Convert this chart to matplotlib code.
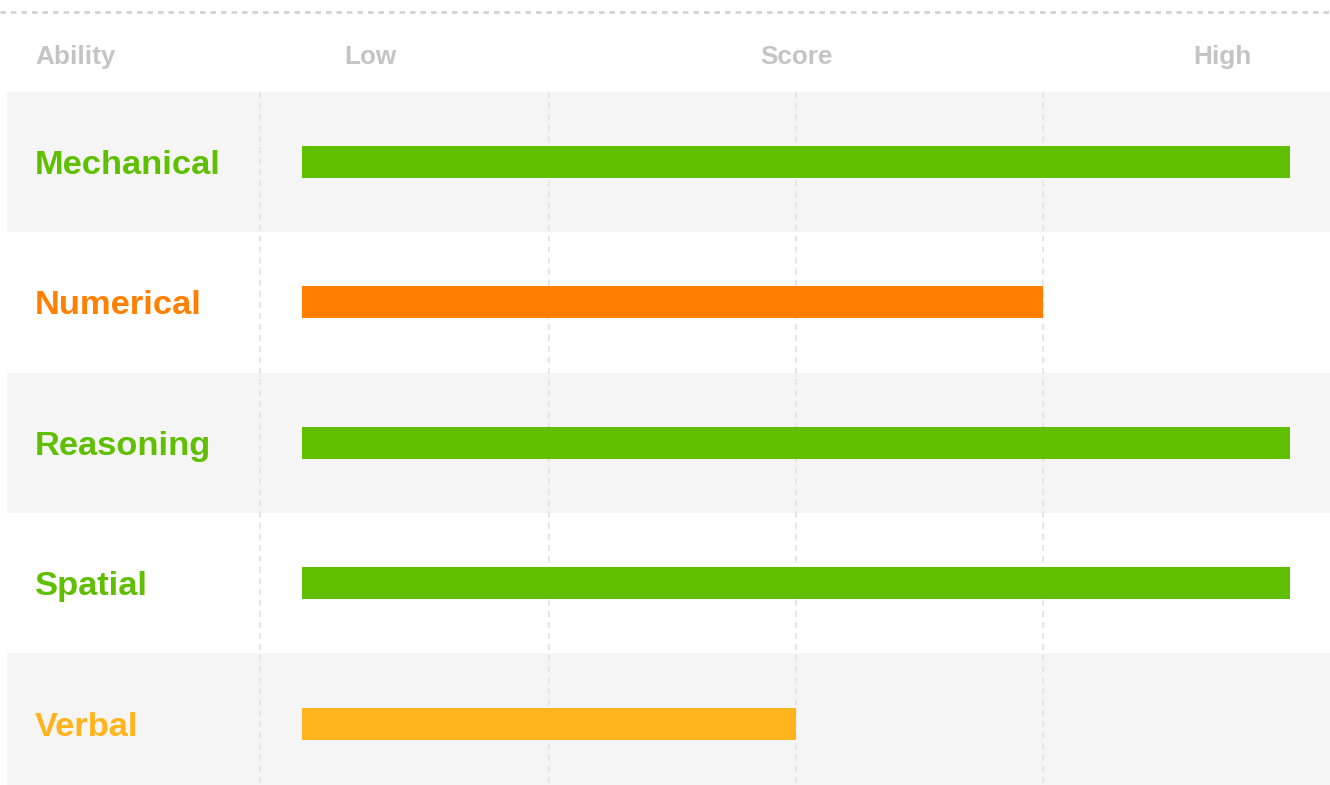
import matplotlib.pyplot as plt

# ability scores on a 0 (low) .. 4 (high) scale
abilities = ['Mechanical', 'Numerical', 'Reasoning', 'Spatial', 'Verbal']
scores = [4, 3, 4, 4, 2]
colors = ['#5fbf00', '#ff8000', '#5fbf00', '#5fbf00', '#ffb31d']
grid_ticks = [1, 2, 3]
header = ['Ability', 'Low', 'Score', 'High']

W, H = 1330, 785
fig = plt.figure(figsize=(W / 100, H / 100), dpi=100)
ax = fig.add_axes([0, 0, 1, 1])

# pixel layout -> data coords
x0, unit = 302, 247.0
row0, row_h = 162, 140.4
ax.set_xlim((0 - x0) / unit, (W - x0) / unit)
ax.set_ylim((H - row0) / row_h, (0 - row0) / row_h)
ax.axis('off')

# alternating row bands
for i in range(len(abilities)):
    if i % 2 == 0:
        ax.axhspan(i - 0.5, i + 0.5, xmin=7 / W, xmax=1, color='#f5f5f5', zorder=0, lw=0)

# vertical dashed guides (column separator + grid)
sep = (260 - x0) / unit
for gx in [sep] + grid_ticks:
    ax.plot([gx, gx], [-0.5, len(abilities)], color='#e6e6e6', lw=1.5,
            dashes=(2.9, 2.4), zorder=1)

# top dashed rule
top_y = (12 - row0) / row_h
ax.plot([(0 - x0) / unit, (W - x0) / unit], [top_y, top_y], color='#cfcfcf',
        lw=1.8, dashes=(2.2, 2.0), zorder=1)

ax.barh(range(len(abilities)), scores, height=32 / row_h, left=0, color=colors, zorder=2)

lab_off = 12 / row_h
for i, (name, c) in enumerate(zip(abilities, colors)):
    ax.text((35 - x0) / unit, i + lab_off, name, color=c, fontsize=24.8, fontweight='bold',
            family='Liberation Sans', va='baseline', ha='left')

hy = (64 - row0) / row_h
hx = [((35 - x0) / unit, 'left'), ((370 - x0) / unit, 'center'),
      (2, 'center'), ((1222 - x0) / unit, 'center')]
for (px, ha), txt in zip(hx, header):
    ax.text(px, hy, txt, color='#c4c4c4', fontsize=18.8, fontweight='bold',
            family='Liberation Sans', va='baseline', ha=ha)

fig.savefig('out.png', dpi=100)
